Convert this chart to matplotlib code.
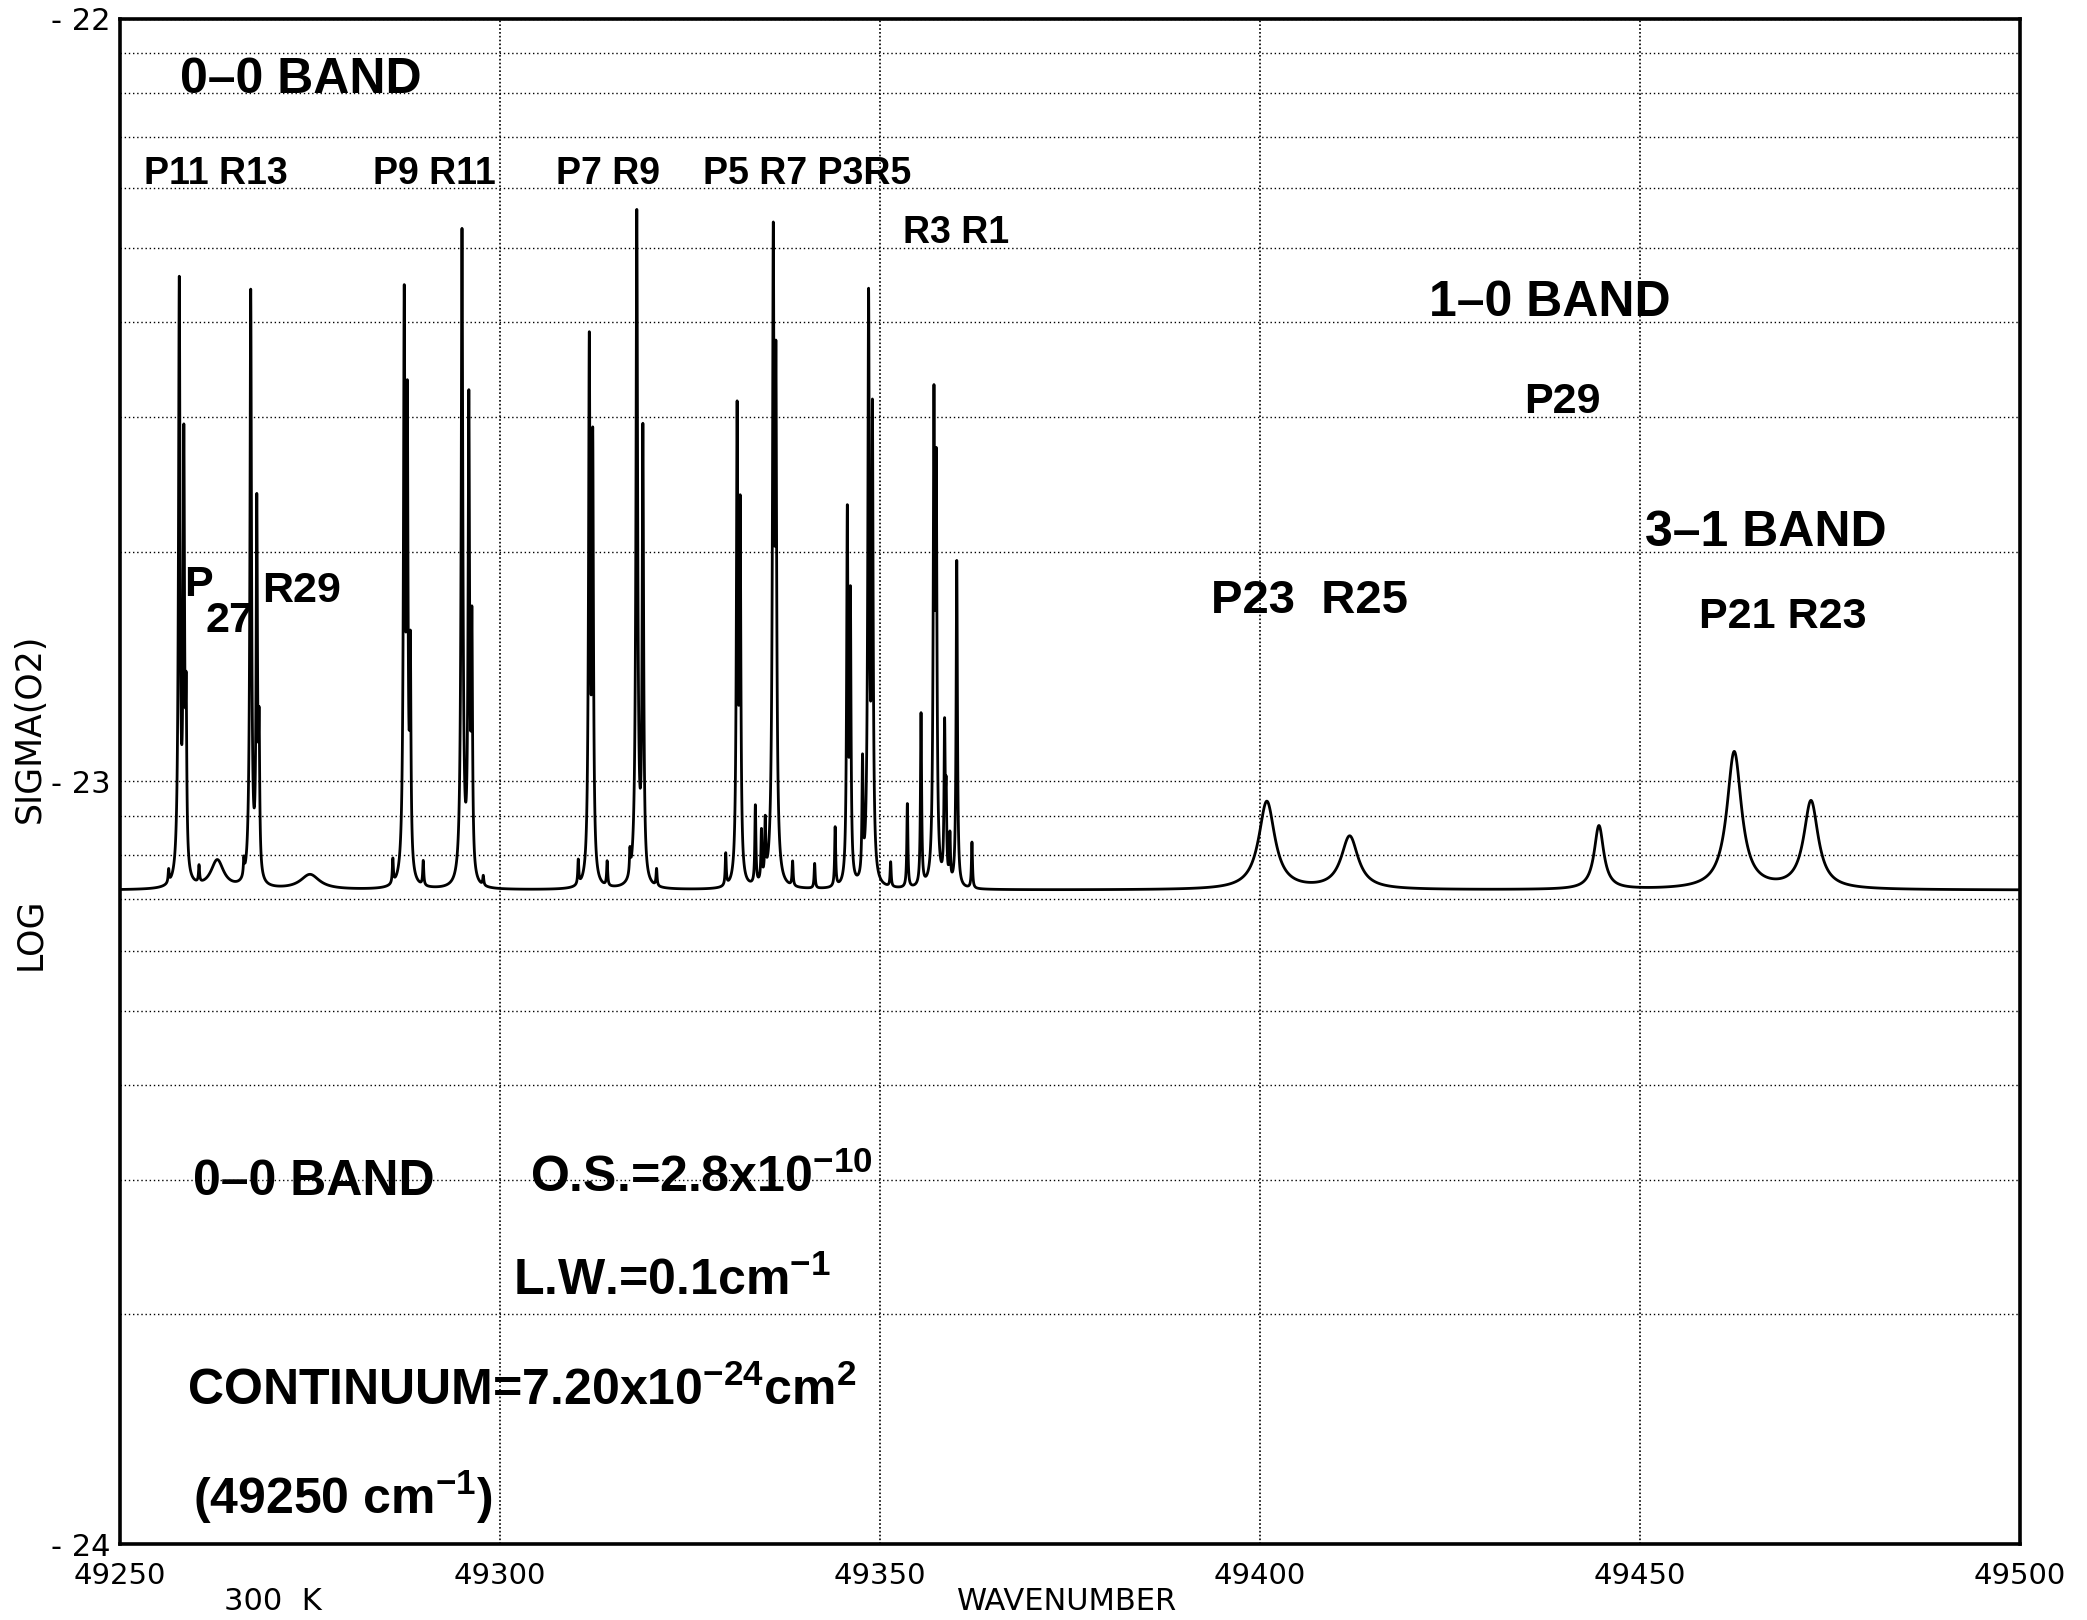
import numpy as np
import matplotlib.pyplot as plt

plt.rcParams['mathtext.fontset'] = 'custom'
plt.rcParams['mathtext.rm'] = 'Liberation Sans:bold'
plt.rcParams['mathtext.it'] = 'Liberation Sans:bold'
plt.rcParams['mathtext.bf'] = 'Liberation Sans:bold'
plt.rcParams['mathtext.default'] = 'rm'
plt.rcParams['path.simplify'] = False

# continuum cross section (cm^2)
continuum = 7.20e-24

# sharp 0-0 band lines: wavenumber, log10 peak sigma
narrow_wn = [49256.4, 49257.8, 49258.4, 49258.7, 49260.4,
             49266.3, 49267.2, 49268.0, 49268.3,
             49285.9, 49287.4, 49287.8, 49288.2, 49289.9,
             49295.0, 49295.9, 49296.3, 49297.8,
             49310.3, 49311.75, 49312.2, 49314.1,
             49317.1, 49318.0, 49318.8, 49320.6,
             49329.7, 49331.2, 49331.6, 49333.6, 49334.4, 49334.9,
             49335.96, 49336.3, 49338.5, 49341.4, 49344.1,
             49345.7, 49346.1, 49347.7, 49348.5, 49349.0,
             49351.4, 49353.6, 49355.4, 49357.1, 49357.4,
             49358.5, 49358.7, 49359.2, 49360.1, 49362.1]
narrow_log = [-23.125, -22.342, -22.547, -22.915, -23.12,
              -23.12, -22.357, -22.635, -22.95,
              -23.11, -22.359, -22.496, -22.84, -23.11,
              -22.277, -22.496, -22.80, -23.13,
              -23.11, -22.418, -22.55, -23.11,
              -23.11, -22.252, -22.538, -23.12,
              -23.10, -22.51, -22.642, -23.038, -23.075, -23.065,
              -22.279, -22.45, -23.11, -23.11, -23.064,
              -22.646, -22.76, -22.985, -22.36, -22.512,
              -23.11, -23.032, -22.914, -22.497, -22.59,
              -22.936, -23.03, -23.08, -22.712, -23.082]
narrow_hw = 0.08

# diffuse lines of the 1-0 and 3-1 bands
broad_wn = [49262.8, 49275.0, 49400.9, 49411.8, 49444.6, 49462.4, 49472.5]
broad_log = [-23.105, -23.123, -23.027, -23.073, -23.059, -22.962, -23.027]
broad_hw = [1.0, 1.5, 1.2, 1.3, 0.72, 1.05, 1.08]

nu = np.arange(49250.0, 49500.0, 0.005)
sigma = np.full_like(nu, continuum)
for w, lg in zip(narrow_wn, narrow_log):
    a = 10**lg - continuum
    sigma += a * narrow_hw**2 / ((nu - w)**2 + narrow_hw**2)
for w, lg, g in zip(broad_wn, broad_log, broad_hw):
    a = 10**lg - continuum
    sigma += a * g**2 / ((nu - w)**2 + g**2)
logsig = np.log10(sigma)

W, H = 2087, 1620
fig = plt.figure(figsize=(W / 100, H / 100), dpi=100)
ax = fig.add_axes([120 / W, 1 - 1544 / H, 1900 / W, 1525.4 / H])

ax.plot(nu, logsig, color='k', lw=2.0)
ax.set_xlim(49250, 49500)
ax.set_ylim(-24, -22)

# log-decade grid
ax.set_xticks([49250, 49300, 49350, 49400, 49450, 49500])
ax.set_xticklabels(['49250', '49300', '49350', '49400', '49450', '49500'], fontsize=21)
ax.set_yticks([-24, -23, -22])
ax.set_yticklabels(['- 24', '- 23', '- 22'], fontsize=22)
minor = [n + np.log10(k) for n in (-24, -23) for k in range(2, 10)]
ax.set_yticks(minor, minor=True)
ax.tick_params(which='both', length=0)
ax.tick_params(axis='x', pad=13)
ax.tick_params(axis='y', pad=7)
ax.grid(True, which='major', axis='x', color='k', lw=1.2, ls=(0, (1, 1.3)))
ax.grid(True, which='major', axis='y', color='k', lw=1.0, ls=(0, (1, 2)))
ax.grid(True, which='minor', axis='y', color='k', lw=1.0, ls=(0, (1, 2)))
for s in ax.spines.values():
    s.set_linewidth(2.6)

fig.text(30 / W, 1 - 934 / H, 'LOG', rotation=90, fontsize=25, ha='center', va='center')
fig.text(30 / W, 1 - 728 / H, 'SIGMA(O2)', rotation=90, fontsize=25, ha='center', va='center')
fig.text(273 / W, 1 - 1601 / H, '300  K', fontsize=22, ha='center', va='center')
fig.text(1067 / W, 1 - 1601 / H, 'WAVENUMBER', fontsize=22, ha='center', va='center')

big = dict(fontsize=36, fontweight='bold', family='Liberation Sans', va='center', ha='left')
lab = dict(fontsize=27, fontweight='bold', family='Liberation Sans', va='center', ha='left')
lab2 = dict(fontsize=31, fontweight='bold', family='Liberation Sans', va='center', ha='left')

ax.text(49257.9, -22.080, '0\u20130 BAND', **big)
ax.text(49253.2, -22.204, 'P11 R13', **lab)
ax.text(49283.3, -22.204, 'P9 R11', **lab)
ax.text(49307.4, -22.204, 'P7 R9', **lab)
ax.text(49326.7, -22.204, 'P5 R7 P3R5', **lab)
ax.text(49353.0, -22.281, 'R3 R1', **lab)
ax.text(49422.2, -22.373, '1\u20130 BAND', **big)
ax.text(49434.8, -22.503, 'P29', **lab2)
ax.text(49450.6, -22.674, '3\u20131 BAND', **big)
ax.text(49457.7, -22.784, 'P21 R23', **lab2)
ax.text(49393.6, -22.763, 'P23  R25', **dict(lab2, fontsize=34))
ax.text(49258.5, -22.742, 'P', **lab2)
ax.text(49261.2, -22.790, '27', **lab2)
ax.text(49268.7, -22.750, 'R29', **lab2)

ax.text(49259.6, -23.525, '0\u20130 BAND', **big)
ax.text(49304.0, -23.520, 'O.S.=2.8x10$^{-10}$', **big)
ax.text(49301.7, -23.656, 'L.W.=0.1cm$^{-1}$', **big)
ax.text(49258.8, -23.799, 'CONTINUUM=7.20x10$^{-24}$cm$^{2}$', **big)
ax.text(49259.6, -23.939, '(49250 cm$^{-1}$)', **big)

fig.savefig('out.png', dpi=100, facecolor='white')
